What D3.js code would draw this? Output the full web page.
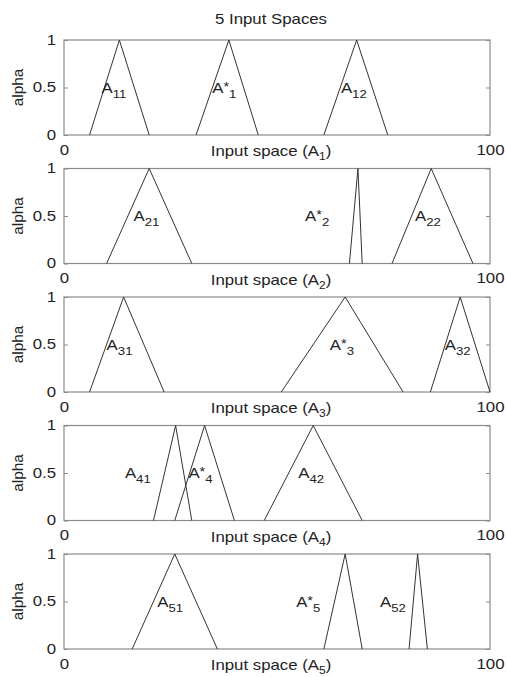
<!DOCTYPE html>
<html>
<head>
<meta charset="utf-8">
<script src="https://cdn.jsdelivr.net/npm/d3@7"></script>
<style>
  body { margin: 0; background: #fff; }
  text { font-family: "Liberation Sans", Arial, sans-serif; fill: #222; }
</style>
</head>
<body>
<div id="chart"></div>
<script>
// Triangular membership functions [left, peak, right] for each input space.
var tri1 = [[6, 13, 20], [31, 38.7, 45.6], [61, 68.7, 76]];
var tri2 = [[10, 20, 30], [67, 69, 70], [77, 86.2, 96]];
var tri3 = [[6, 14, 23.5], [51, 66, 79.6], [86, 93, 100]];
var tri4 = [[21, 26.2, 30], [26, 33, 40], [47, 58.5, 70]];
var tri5 = [[16, 26, 36], [61, 66, 70], [81, 83, 85.3]];
var triangles = [tri1, tri2, tri3, tri4, tri5];

// Set labels: [star, subscript] and the x where each label starts.
var labels1 = [["", "11"], ["*", "1"], ["", "12"]];
var labels2 = [["", "21"], ["*", "2"], ["", "22"]];
var labels3 = [["", "31"], ["*", "3"], ["", "32"]];
var labels4 = [["", "41"], ["*", "4"], ["", "42"]];
var labels5 = [["", "51"], ["*", "5"], ["", "52"]];
var labels = [labels1, labels2, labels3, labels4, labels5];
var labelX = [[8.8, 34.8, 65], [16.3, 56.6, 82.4], [10, 62.4, 89.4], [14.3, 29.2, 55], [21.9, 54.5, 74.2]];

var xTicks = [0, 100];
var yTicks = [0, 0.5, 1];
var title = "5 Input Spaces";

var divWidth = 507,
    divHeight = 677,
    left = 64, right = 490,
    top0 = 40, step = 128.5, panelH = 95,
    sx = 1.2;

var svg = d3.select("#chart").append("svg")
  .attr("width", divWidth)
  .attr("height", divHeight);

// stretch text horizontally (the reference glyphs look wide)
function stretch(sel) {
  sel.each(function () {
    var t = d3.select(this);
    var x = +t.attr("x") || 0, y = +t.attr("y") || 0;
    t.attr("x", null).attr("y", null)
      .attr("transform", "translate(" + x + "," + y + ") scale(" + sx + ",1)");
  });
}

var x = d3.scaleLinear().domain([0, 100]).range([left, right]);

svg.append("text")
  .attr("x", 271).attr("y", 24)
  .attr("text-anchor", "middle")
  .style("font-size", "14px")
  .text(title)
  .call(stretch);

triangles.forEach(function (tris, i) {
  var top = top0 + i * step;
  var y = d3.scaleLinear().domain([0, 1]).range([top + panelH, top]);
  var g = svg.append("g");

  // box
  g.append("rect")
    .attr("x", left).attr("y", top)
    .attr("width", right - left).attr("height", panelH)
    .attr("fill", "none").attr("stroke", "#8a8a8a").attr("stroke-width", 1.2);

  // y ticks, inward on both sides
  g.append("g").attr("transform", "translate(" + left + ",0)")
    .call(d3.axisLeft(y).tickValues(yTicks).tickFormat(d3.format("")).tickSize(-4).tickPadding(8));
  g.append("g").attr("transform", "translate(" + right + ",0)")
    .call(d3.axisRight(y).tickValues(yTicks).tickFormat("").tickSize(-4));
  g.append("g").attr("transform", "translate(0," + (top + panelH) + ")")
    .call(d3.axisBottom(x).tickValues(xTicks).tickSize(0).tickPadding(10));
  g.selectAll(".domain").remove();
  g.selectAll(".tick line").attr("stroke", "#8a8a8a");
  g.selectAll(".tick text").style("font-size", "14px").attr("fill", "#222").call(stretch);

  // ylabel
  g.append("text")
    .attr("transform", "translate(23," + y(0.5) + ") rotate(-90) scale(1.1,1)")
    .attr("text-anchor", "middle")
    .style("font-size", "14px")
    .text("alpha");

  // xlabel
  var xt = g.append("text")
    .attr("x", x(50) - 6).attr("y", top + panelH + 21)
    .attr("text-anchor", "middle")
    .style("font-size", "14px");
  xt.append("tspan").text("Input space (A");
  xt.append("tspan").attr("dy", 4).style("font-size", "10px").text(i + 1);
  xt.append("tspan").attr("dy", -4).text(")");
  xt.call(stretch);

  // triangles
  var line = d3.line().x(function (d) { return x(d[0]); }).y(function (d) { return y(d[1]); });
  g.selectAll("path.tri")
    .data(tris)
    .join("path")
    .attr("class", "tri")
    .attr("d", function (d) { return line([[d[0], 0], [d[1], 1], [d[2], 0]]); })
    .attr("fill", "none")
    .attr("stroke", "#333")
    .attr("stroke-width", 1);

  // set labels
  labels[i].forEach(function (lab, j) {
    var t = g.append("text")
      .attr("x", x(labelX[i][j])).attr("y", y(0.5) + 5)
      .style("font-size", "14px");
    t.append("tspan").text("A");
    if (lab[0]) {
      t.append("tspan").attr("dy", -2).style("font-size", "12px").text(lab[0]);
      t.append("tspan").attr("dy", 7).style("font-size", "11px").text(lab[1]);
    } else {
      t.append("tspan").attr("dy", 5).style("font-size", "11px").text(lab[1]);
    }
    t.call(stretch);
  });
});
</script>
</body>
</html>
